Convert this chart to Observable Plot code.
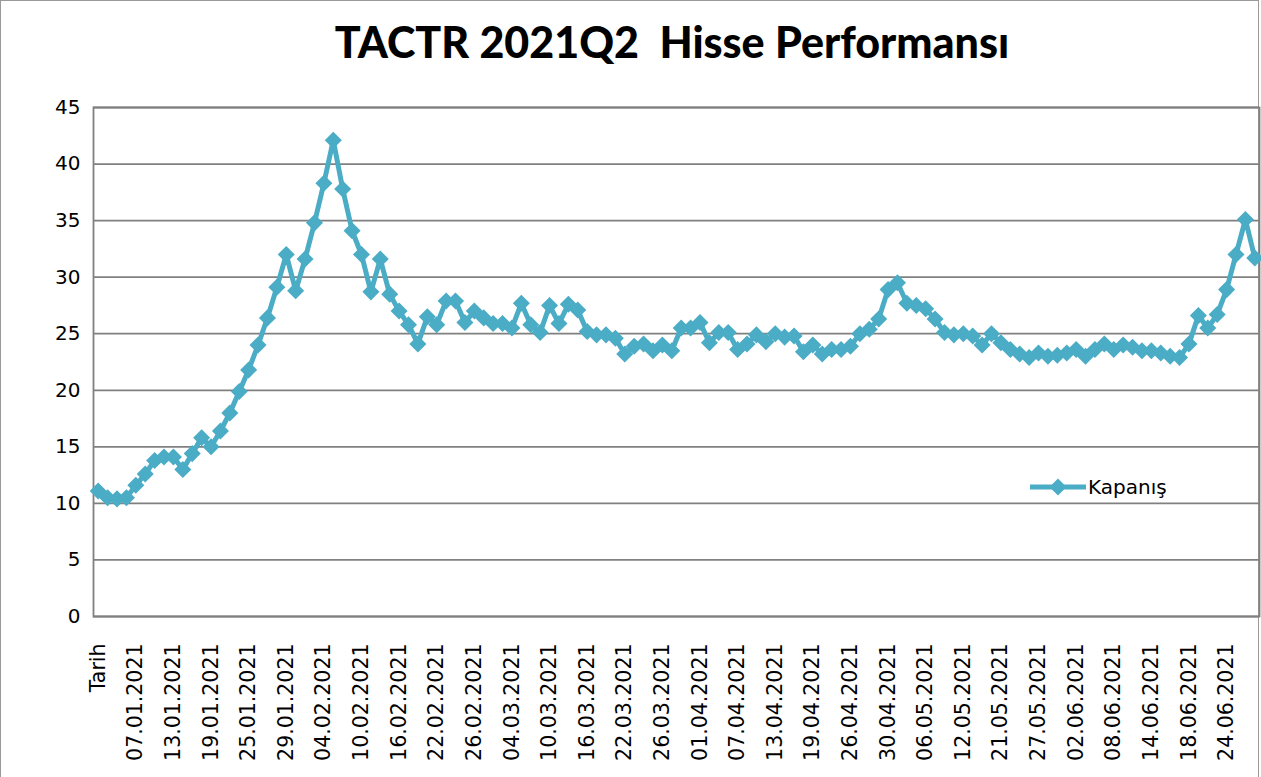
<!DOCTYPE html>
<html>
<head>
<meta charset="utf-8">
<script src="https://cdn.jsdelivr.net/npm/d3@7"></script>
<script src="https://cdn.jsdelivr.net/npm/@observablehq/plot@0.6"></script>
<style>
  html, body { margin: 0; padding: 0; background: #fff; overflow: hidden; }
  #wrap { position: relative; width: 1261px; height: 777px; }
  #border { position: absolute; left: 0; top: 0; width: 1257px; height: 790px; border: 1.5px solid #9a9a9a; box-sizing: content-box; }
  #title { position: absolute; left: 0; width: 1344px; top: 16px; text-align: center;
           font-family: "Lato", "Open Sans", sans-serif; font-weight: 900; font-size: 43px; color: #000; white-space: pre; }
  #chart { position: absolute; left: 0; top: 0; }
  #legend { position: absolute; left: 1030px; top: 474px; display: flex; align-items: center;
            font-family: "DejaVu Sans", sans-serif; font-size: 20px; color: #000; }
</style>
</head>
<body>
<div id="wrap">
  <div id="border"></div>
  <div id="chart"></div>
  <div id="title">TACTR 2021Q2  Hisse Performansı</div>
  <div id="legend"><svg width="56" height="26"><line x1="0" y1="13" x2="56" y2="13" stroke="#4BACC6" stroke-width="5"/><path d="M28,4.5L36.5,13L28,21.5L19.5,13Z" fill="#4BACC6"/></svg><span style="margin-left:2px">Kapanış</span></div>
</div>
<script>
const categories = [
  "Tarih",
  "04.01.2021","05.01.2021","06.01.2021","07.01.2021","08.01.2021","11.01.2021","12.01.2021","13.01.2021",
  "14.01.2021","15.01.2021","18.01.2021","19.01.2021","20.01.2021","21.01.2021","22.01.2021","25.01.2021",
  "26.01.2021","27.01.2021","28.01.2021","29.01.2021","01.02.2021","02.02.2021","03.02.2021","04.02.2021",
  "05.02.2021","08.02.2021","09.02.2021","10.02.2021","11.02.2021","12.02.2021","15.02.2021","16.02.2021",
  "17.02.2021","18.02.2021","19.02.2021","22.02.2021","23.02.2021","24.02.2021","25.02.2021","26.02.2021",
  "01.03.2021","02.03.2021","03.03.2021","04.03.2021","05.03.2021","08.03.2021","09.03.2021","10.03.2021",
  "11.03.2021","12.03.2021","15.03.2021","16.03.2021","17.03.2021","18.03.2021","19.03.2021","22.03.2021",
  "23.03.2021","24.03.2021","25.03.2021","26.03.2021","29.03.2021","30.03.2021","31.03.2021","01.04.2021",
  "02.04.2021","05.04.2021","06.04.2021","07.04.2021","08.04.2021","09.04.2021","12.04.2021","13.04.2021",
  "14.04.2021","15.04.2021","16.04.2021","19.04.2021","20.04.2021","21.04.2021","22.04.2021","26.04.2021",
  "27.04.2021","28.04.2021","29.04.2021","30.04.2021","03.05.2021","04.05.2021","05.05.2021","06.05.2021",
  "07.05.2021","10.05.2021","11.05.2021","12.05.2021","17.05.2021","18.05.2021","20.05.2021","21.05.2021",
  "24.05.2021","25.05.2021","26.05.2021","27.05.2021","28.05.2021","31.05.2021","01.06.2021","02.06.2021",
  "03.06.2021","04.06.2021","07.06.2021","08.06.2021","09.06.2021","10.06.2021","11.06.2021","14.06.2021",
  "15.06.2021","16.06.2021","17.06.2021","18.06.2021","21.06.2021","22.06.2021","23.06.2021","24.06.2021",
  "25.06.2021","28.06.2021","29.06.2021"
];

const closes = [
  11.1,
  10.5, 10.4, 10.5, 11.6, 12.6, 13.8, 14.1, 14.1,
  13.0, 14.4, 15.8, 15.0, 16.4, 18.0, 19.9, 21.8,
  24.0, 26.4, 29.1, 32.0, 28.8, 31.6, 34.8, 38.3,
  42.1, 37.8, 34.1, 32.0, 28.7, 31.6, 28.5, 27.0,
  25.8, 24.1, 26.5, 25.8, 27.9, 27.9, 26.0, 27.0,
  26.4, 25.9, 25.9, 25.5, 27.7, 25.8, 25.1, 27.5,
  25.9, 27.6, 27.1, 25.2, 24.9, 24.9, 24.6, 23.2,
  23.9, 24.1, 23.5, 24.0, 23.5, 25.5, 25.5, 26.0,
  24.2, 25.1, 25.1, 23.6, 24.1, 24.9, 24.3, 25.0,
  24.7, 24.8, 23.4, 24.0, 23.2, 23.6, 23.6, 23.9,
  25.0, 25.4, 26.3, 28.9, 29.5, 27.7, 27.5, 27.2,
  26.3, 25.1, 24.9, 25.0, 24.8, 24.0, 25.0, 24.2,
  23.6, 23.2, 22.9, 23.3, 23.0, 23.1, 23.3, 23.6,
  23.0, 23.6, 24.1, 23.6, 24.0, 23.8, 23.5, 23.5,
  23.3, 23.0, 22.9, 24.1, 26.6, 25.5, 26.7, 28.9,
  32.0, 35.1, 31.7
];

const yTicks = [0, 5, 10, 15, 20, 25, 30, 35, 40, 45];
const xTickLabels = categories.filter((d, i) => i % 4 === 0);

const data = categories.map((c, i) => ({date: c, close: closes[i]}));

const diamond = {
  draw(context, size) {
    const h = Math.sqrt(size / 2);
    context.moveTo(0, -h);
    context.lineTo(h, 0);
    context.lineTo(0, h);
    context.lineTo(-h, 0);
    context.closePath();
  }
};

const color = "#4BACC6";

const chart = Plot.plot({
  width: 1261,
  height: 777,
  marginTop: 107,
  marginBottom: 161,
  marginLeft: 93,
  marginRight: 2,
  style: {fontFamily: "DejaVu Sans, sans-serif", fontSize: "20px", color: "#000", background: "transparent", overflow: "visible"},
  x: {type: "point", domain: categories, padding: 0.5},
  y: {domain: [0, 45]},
  marks: [
    Plot.ruleY(yTicks, {stroke: "#808080", strokeWidth: 1.8}),
    Plot.frame({stroke: "#808080", strokeWidth: 1.8}),
    Plot.axisY(yTicks, {tickSize: 0, tickPadding: 13, label: null, fontSize: 20}),
    Plot.axisX(xTickLabels, {tickSize: 0, tickRotate: -90, tickPadding: 27, label: null, fontSize: 20.5}),
    Plot.line(data, {x: "date", y: "close", stroke: color, strokeWidth: 5, strokeLinejoin: "round"}),
    Plot.dot(data, {x: "date", y: "close", symbol: diamond, r: 6.8, fill: color, stroke: "none"})
  ]
});
document.getElementById("chart").appendChild(chart);
</script>
</body>
</html>
